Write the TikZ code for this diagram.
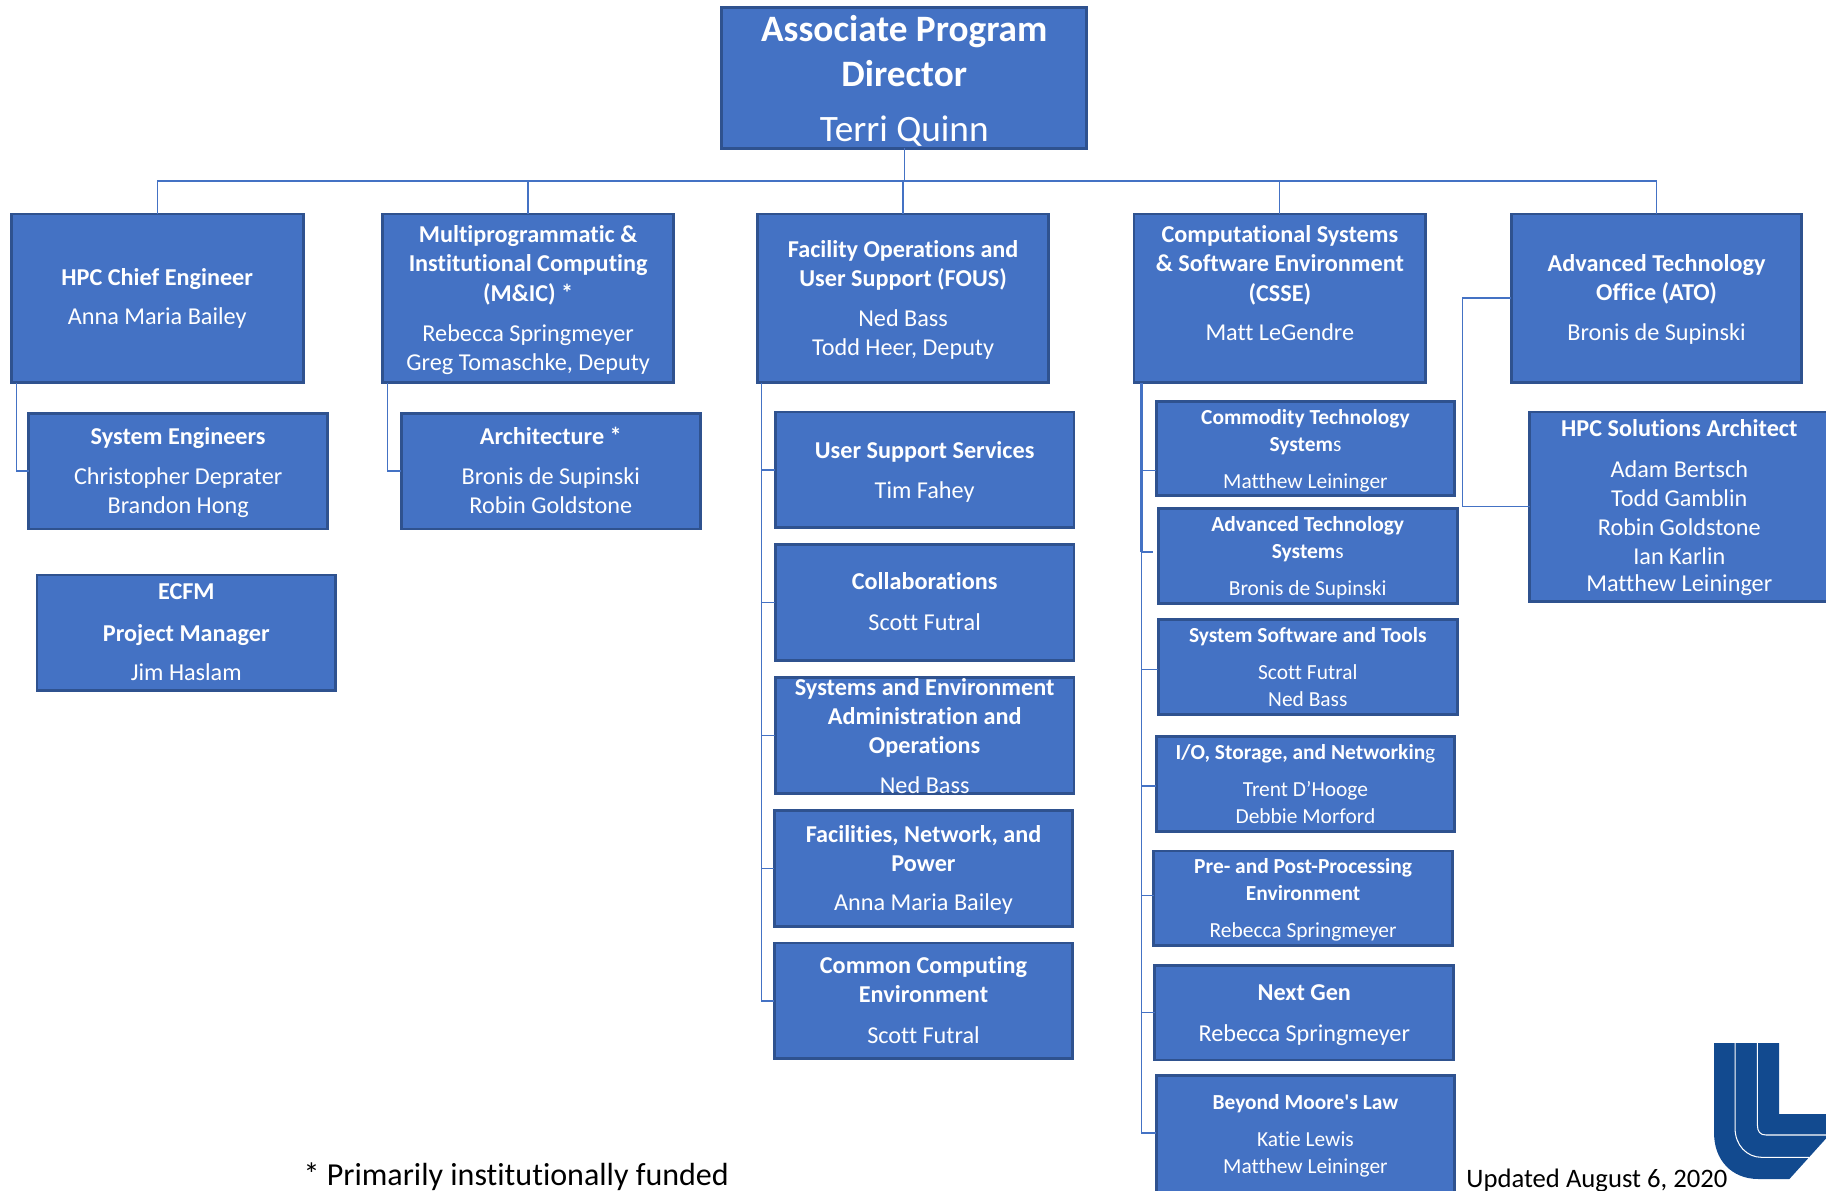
\documentclass[tikz,border=0pt]{standalone}
\usepackage{fontspec}
\setmainfont[Ligatures={NoCommon}]{Carlito}
\newfontfamily\straightquote[Ligatures={NoCommon}]{Carlito}
\definecolor{boxfill}{HTML}{4472C4}
\definecolor{boxedge}{HTML}{2F528F}
\definecolor{logoblue}{HTML}{124A8F}
\tikzset{
  orgbox/.style={draw=boxedge,fill=boxfill,line width=2.5pt,inner sep=0pt,outer sep=0pt,text=white},
  link/.style={draw=boxfill,line width=1.1pt},
  thicklink/.style={draw=boxfill,line width=2.4pt},
  note/.style={inner sep=0pt,text=black,anchor=base west}
}
\newcommand\LN[3]{\pgfmathsetlengthmacro\rz{(\cyy-#2)*1pt-0.30*\fsz*1pt-0.8pt}\hbox to 0pt{\hss\raisebox{\rz}[0pt][0pt]{\fontsize{\fsz}{\fsz}\selectfont #1#3}\hss}}
\newcommand\LB[2]{\LN{\bfseries}{#1}{#2}}
\newcommand\LR[2]{\LN{}{#1}{#2}}
\newcommand\bx[7]{%
  \pgfmathsetmacro\cxx{(#2+#4)/2}\pgfmathsetmacro\cyy{(#3+#5)/2}%
  \pgfmathsetmacro\bw{#4-#2-1.5}\pgfmathsetmacro\bh{#5-#3-1.5}\def\fsz{#6}%
  \node[orgbox,minimum width=\bw pt,minimum height=\bh pt] (#1) at (\cxx,\cyy) {#7};}
\begin{document}
\begin{tikzpicture}[x=1pt,y=-1pt]
\useasboundingbox (0,0) rectangle (1568,1021.9);
\clip (0,0) rectangle (1568,1021.9);

\coordinate (bus) at (776.5,155.5);
\coordinate (hpcdrop) at (14,329);
\coordinate (micdrop) at (333,329);
\coordinate (fousdrop) at (654,329);
\coordinate (cssedrop) at (980,329);
\coordinate (cssemid) at (980,474);
\coordinate (atslink) at (990,474);
\coordinate (atoturn) at (1256,256);

\bx{top}{619}{6}{934}{128}{32}{\LB{25}{Associate Program}\LB{64}{Director}\LR{111}{Terri Quinn}}
\bx{hpc}{9}{183}{261}{329}{20.8}{\LB{238}{HPC Chief Engineer}\LR{272}{Anna Maria Bailey}}
\bx{mic}{328}{183}{579}{329}{20.8}{\LB{201}{Multiprogrammatic \&}\LB{226}{Institutional Computing}\LB{252}{(M\&IC) *}\LR{286}{Rebecca Springmeyer}\LR{311}{Greg Tomaschke, Deputy}}
\bx{fous}{650}{183}{901}{329}{20.8}{\LB{214}{Facility Operations and}\LB{239}{User Support (FOUS)}\LR{273}{Ned Bass}\LR{298}{Todd Heer, Deputy}}
\bx{csse}{973}{183}{1225}{329}{20.8}{\LB{201}{Computational Systems}\LB{226}{\& Software Environment}\LB{252}{(CSSE)}\LR{285}{Matt LeGendre}}
\bx{ato}{1297}{183}{1548}{329}{20.8}{\LB{226}{Advanced Technology}\LB{251}{Office (ATO)}\LR{285}{Bronis de Supinski}}

\bx{syseng}{24}{354}{282}{455}{20.8}{\LB{375}{System Engineers}\LR{409}{Christopher Deprater}\LR{434}{Brandon Hong}}
\bx{arch}{344}{354}{602}{455}{20.8}{\LB{375}{Architecture *}\LR{409}{Bronis de Supinski}\LR{434}{Robin Goldstone}}
\bx{ecfm}{31}{493}{289}{594}{20.8}{\LB{508}{ECFM}\LB{544}{Project Manager}\LR{577}{Jim Haslam}}

\bx{usr}{665}{353}{923}{454}{20.8}{\LB{387}{User Support Services}\LR{421}{Tim Fahey}}
\bx{coll}{665}{467}{923}{568}{20.8}{\LB{499}{Collaborations}\LR{534}{Scott Futral}}
\bx{sea}{665}{581}{923}{682}{20.8}{\LB{590}{Systems and Environment}\LB{615}{Administration and}\LB{640}{Operations}\LR{674}{Ned Bass}}
\bx{fac}{664}{695}{922}{796}{20.8}{\LB{716}{Facilities, Network, and}\LB{741}{Power}\LR{775}{Anna Maria Bailey}}
\bx{cce}{664}{809}{922}{910}{20.8}{\LB{829}{Common Computing}\LB{854}{Environment}\LR{889}{Scott Futral}}

\bx{cts}{992}{344}{1250}{426}{18.4}{\LB{358}{Commodity Technology}\LN{}{381}{\textbf{System}s}\LR{413}{Matthew Leininger}}
\bx{ats}{994}{436}{1252}{519}{18.4}{\LB{450}{Advanced Technology}\LN{}{473}{\textbf{System}s}\LR{505}{Bronis de Supinski}}
\bx{sst}{994}{531}{1252}{614}{18.4}{\LB{545}{System Software and Tools}\LR{577}{Scott Futral}\LR{600}{Ned Bass}}
\bx{ios}{992}{632}{1250}{715}{18.4}{\LN{}{646}{\textbf{I/O, Storage, and Networkin}g}\LR{678}{Trent D’Hooge}\LR{701}{Debbie Morford}}
\bx{pre}{990}{730}{1248}{813}{18.4}{\LB{744}{Pre- and Post-Processing}\LB{767}{Environment}\LR{799}{Rebecca Springmeyer}}
\bx{ngen}{991}{828}{1249}{911}{20.8}{\LB{852}{Next Gen}\LR{887}{Rebecca Springmeyer}}
\bx{moore}{992}{923}{1250}{1032}{18.4}{\LN{\straightquote\bfseries}{946}{Beyond Moore's Law}\LR{978}{Katie Lewis}\LR{1001}{Matthew Leininger}}
\bx{sol}{1313}{353}{1571}{517}{20.8}{\LB{368}{HPC Solutions Architect}\LR{403}{Adam Bertsch}\LR{428}{Todd Gamblin}\LR{453}{Robin Goldstone}\LR{478}{Ian Karlin}\LR{501}{Matthew Leininger}}

\draw[link] (top.south) -- (bus);
\draw[link] (bus) -| (hpc.north);
\draw[link] (bus) -| (mic.north);
\draw[link] (bus) -| (fous.north);
\draw[link] (bus) -| (csse.north);
\draw[link] (bus) -| (ato.north);
\draw[link] (hpcdrop) |- (syseng.west);
\draw[link] (micdrop) |- (arch.west);
\draw[link] (fousdrop) |- (cce.west);
\draw[link] (fousdrop |- usr.west) -- (usr.west);
\draw[link] (fousdrop |- coll.west) -- (coll.west);
\draw[link] (fousdrop |- sea.west) -- (sea.west);
\draw[link] (fousdrop |- fac.west) -- (fac.west);
\draw[thicklink] (cssedrop) -- (cssemid);
\draw[link] (cssedrop) |- (moore.west |- 0,973);
\draw[link] (cssedrop |- 0,404) -- (cts.west |- 0,404);
\draw[link] (cssemid) -- (atslink);
\draw[link] (cssedrop |- 0,575) -- (sst.west |- 0,575);
\draw[link] (cssedrop |- 0,675) -- (ios.west |- 0,675);
\draw[link] (cssedrop |- 0,769) -- (pre.west |- 0,769);
\draw[link] (cssedrop |- ngen.west) -- (ngen.west);
\draw[link] (ato.west) -- (ato.west -| atoturn) |- (sol.west |- 0,435);

\node[note,font=\fontsize{27.5}{27.5}\selectfont] (fund) at (260.5,1017.6) {* Primarily institutionally funded};
\node[note,font=\fontsize{22.9}{22.9}\selectfont] (upd) at (1259,1020) {Updated August 6, 2020};

\begin{scope}[shift={(1425.5,858.7)},x=0.28625pt,y=-0.28625pt]
\fill[logoblue] (162,129) -- (357,129) -- (357,342) -- (510,342) -- (510,402) -- (388,537) -- (295,537)
  .. controls (215,537) and (162,480) .. (162,400) -- cycle;
\draw[white,line width=0.9pt] (225,129) -- (225,385) .. controls (225,435) and (260,472) .. (305,472) -- (448,472);
\draw[white,line width=0.9pt] (292,129) -- (292,375) .. controls (292,395) and (300,405) .. (318,405) -- (510,405);
\end{scope}
\end{tikzpicture}
\end{document}
